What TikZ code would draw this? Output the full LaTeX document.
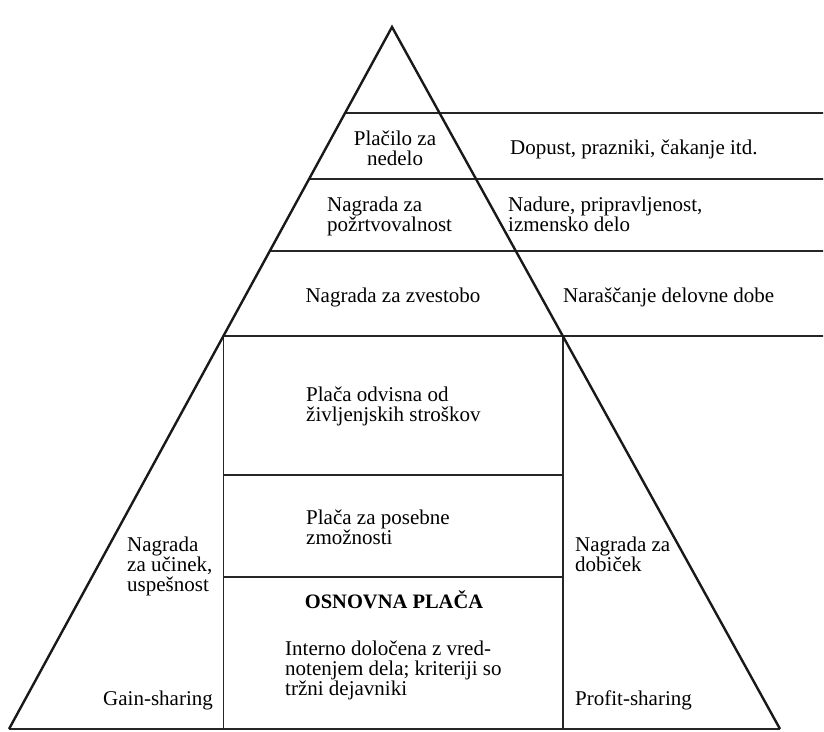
\documentclass[tikz,border=0pt]{standalone}
\usepackage{fontspec}
\setmainfont{Liberation Serif}
\usetikzlibrary{calc}
\begin{document}
\begin{tikzpicture}[x=1pt,y=-1pt,
  rule/.style={line width=1.6pt,draw=black!85},
  edge/.style={line width=2.4pt,draw=black!90,line join=miter},
  lbl/.style={inner sep=0pt,font=\fontsize{21}{20}\selectfont},
  lblL/.style={lbl,anchor=base west,align=left},
  lblC/.style={lbl,anchor=base,align=center}]
\fill[white] (0,0) rectangle (824,731);
\useasboundingbox (0,0) rectangle (824,731);

% outer triangle
\coordinate (apex) at (392,27);
\coordinate (bl) at (9,729);
\coordinate (br) at (780,729);

% band boundaries: left edge, right edge and free right end
\foreach \n/\y in {a/113,b/179,c/251,d/336}{
  \coordinate (l\n) at ($(apex)!{(\y-27)/702}!(bl)$);
  \coordinate (r\n) at ($(apex)!{(\y-27)/702}!(br)$);
  \coordinate (e\n) at (823,\y);
}
\coordinate (fl) at (ld |- bl);
\coordinate (fr) at (rd |- bl);
\coordinate (m1l) at (ld |- 0,475);
\coordinate (m1r) at (rd |- 0,475);
\coordinate (m2l) at (ld |- 0,577);
\coordinate (m2r) at (rd |- 0,577);

% horizontal rules
\draw[rule] (la) -- (ea);
\draw[rule] (lb) -- (eb);
\draw[rule] (lc) -- (ec);
\draw[rule] (ld) -- (ed);
\draw[rule] (m1l) -- (m1r);
\draw[rule] (m2l) -- (m2r);
% central column
\draw[rule] (ld) -- (fl);
\draw[rule] (rd) -- (fr);
% base and sides
\draw[rule,line width=2pt] (bl) -- (br);
\draw[edge] (bl) -- (apex) -- (br);

% labels (base anchor = baseline of the last line)
\node[lblC] (pn) at (395,165) {Plačilo za\\nedelo};
\node[lblL] (dp) at (510,154) {Dopust, prazniki, čakanje itd.};
\node[lblL] (np) at (327,231) {Nagrada za\\požrtvovalnost};
\node[lblL] (nd) at (508,231) {Nadure, pripravljenost,\\izmensko delo};
\node[lblC] (nz) at (393,302) {Nagrada za zvestobo};
\node[lblL] (nr) at (563,302) {Naraščanje delovne dobe};
\node[lblL] (po) at (306,421) {Plača odvisna od\\življenjskih stroškov};
\node[lblL] (pp) at (306,544) {Plača za posebne\\zmožnosti};
\node[lblL] (nu) at (127,591) {Nagrada\\za učinek,\\uspešnost};
\node[lblL] (ndb) at (575,571) {Nagrada za\\dobiček};
\node[lblC,font=\fontsize{20.5}{20}\selectfont\bfseries] (op) at (394,608) {OSNOVNA PLAČA};
\node[lblL] (in) at (285,695) {Interno določena z vred-\\notenjem dela; kriteriji so\\tržni dejavniki};
\node[lblL] (gs) at (103,705) {Gain-sharing};
\node[lblL] (ps) at (575,705) {Profit-sharing};
\end{tikzpicture}
\end{document}
